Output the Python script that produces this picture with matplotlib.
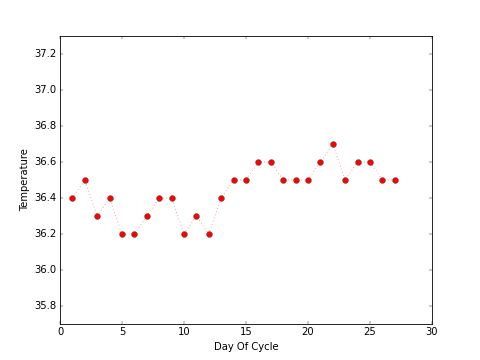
import matplotlib
matplotlib.use("Agg")
import matplotlib.pyplot as plt

plt.style.use("classic")

# dados do ciclo
dias = list(range(1, 28))
temperaturas = [36.4, 36.5, 36.3, 36.4, 36.2, 36.2, 36.3, 36.4, 36.4, 36.2,
                36.3, 36.2, 36.4, 36.5, 36.5, 36.6, 36.6, 36.5, 36.5, 36.5,
                36.6, 36.7, 36.5, 36.6, 36.6, 36.5, 36.5]

fig = plt.figure(figsize=(8, 6), dpi=60)
ax = fig.add_subplot(111)
ax.plot(dias, temperaturas, "r:", alpha=0.5)
ax.plot(dias, temperaturas, "ro", markersize=7, markeredgecolor="#444444")
ax.set_xlim(0, 30)
ax.set_ylim(35.7, 37.3)
ax.set_yticks([35.8, 36.0, 36.2, 36.4, 36.6, 36.8, 37.0, 37.2])
ax.set_xlabel("Day Of Cycle")
ax.set_ylabel("Temperature")
fig.savefig("out.png", dpi=60, facecolor="white")
